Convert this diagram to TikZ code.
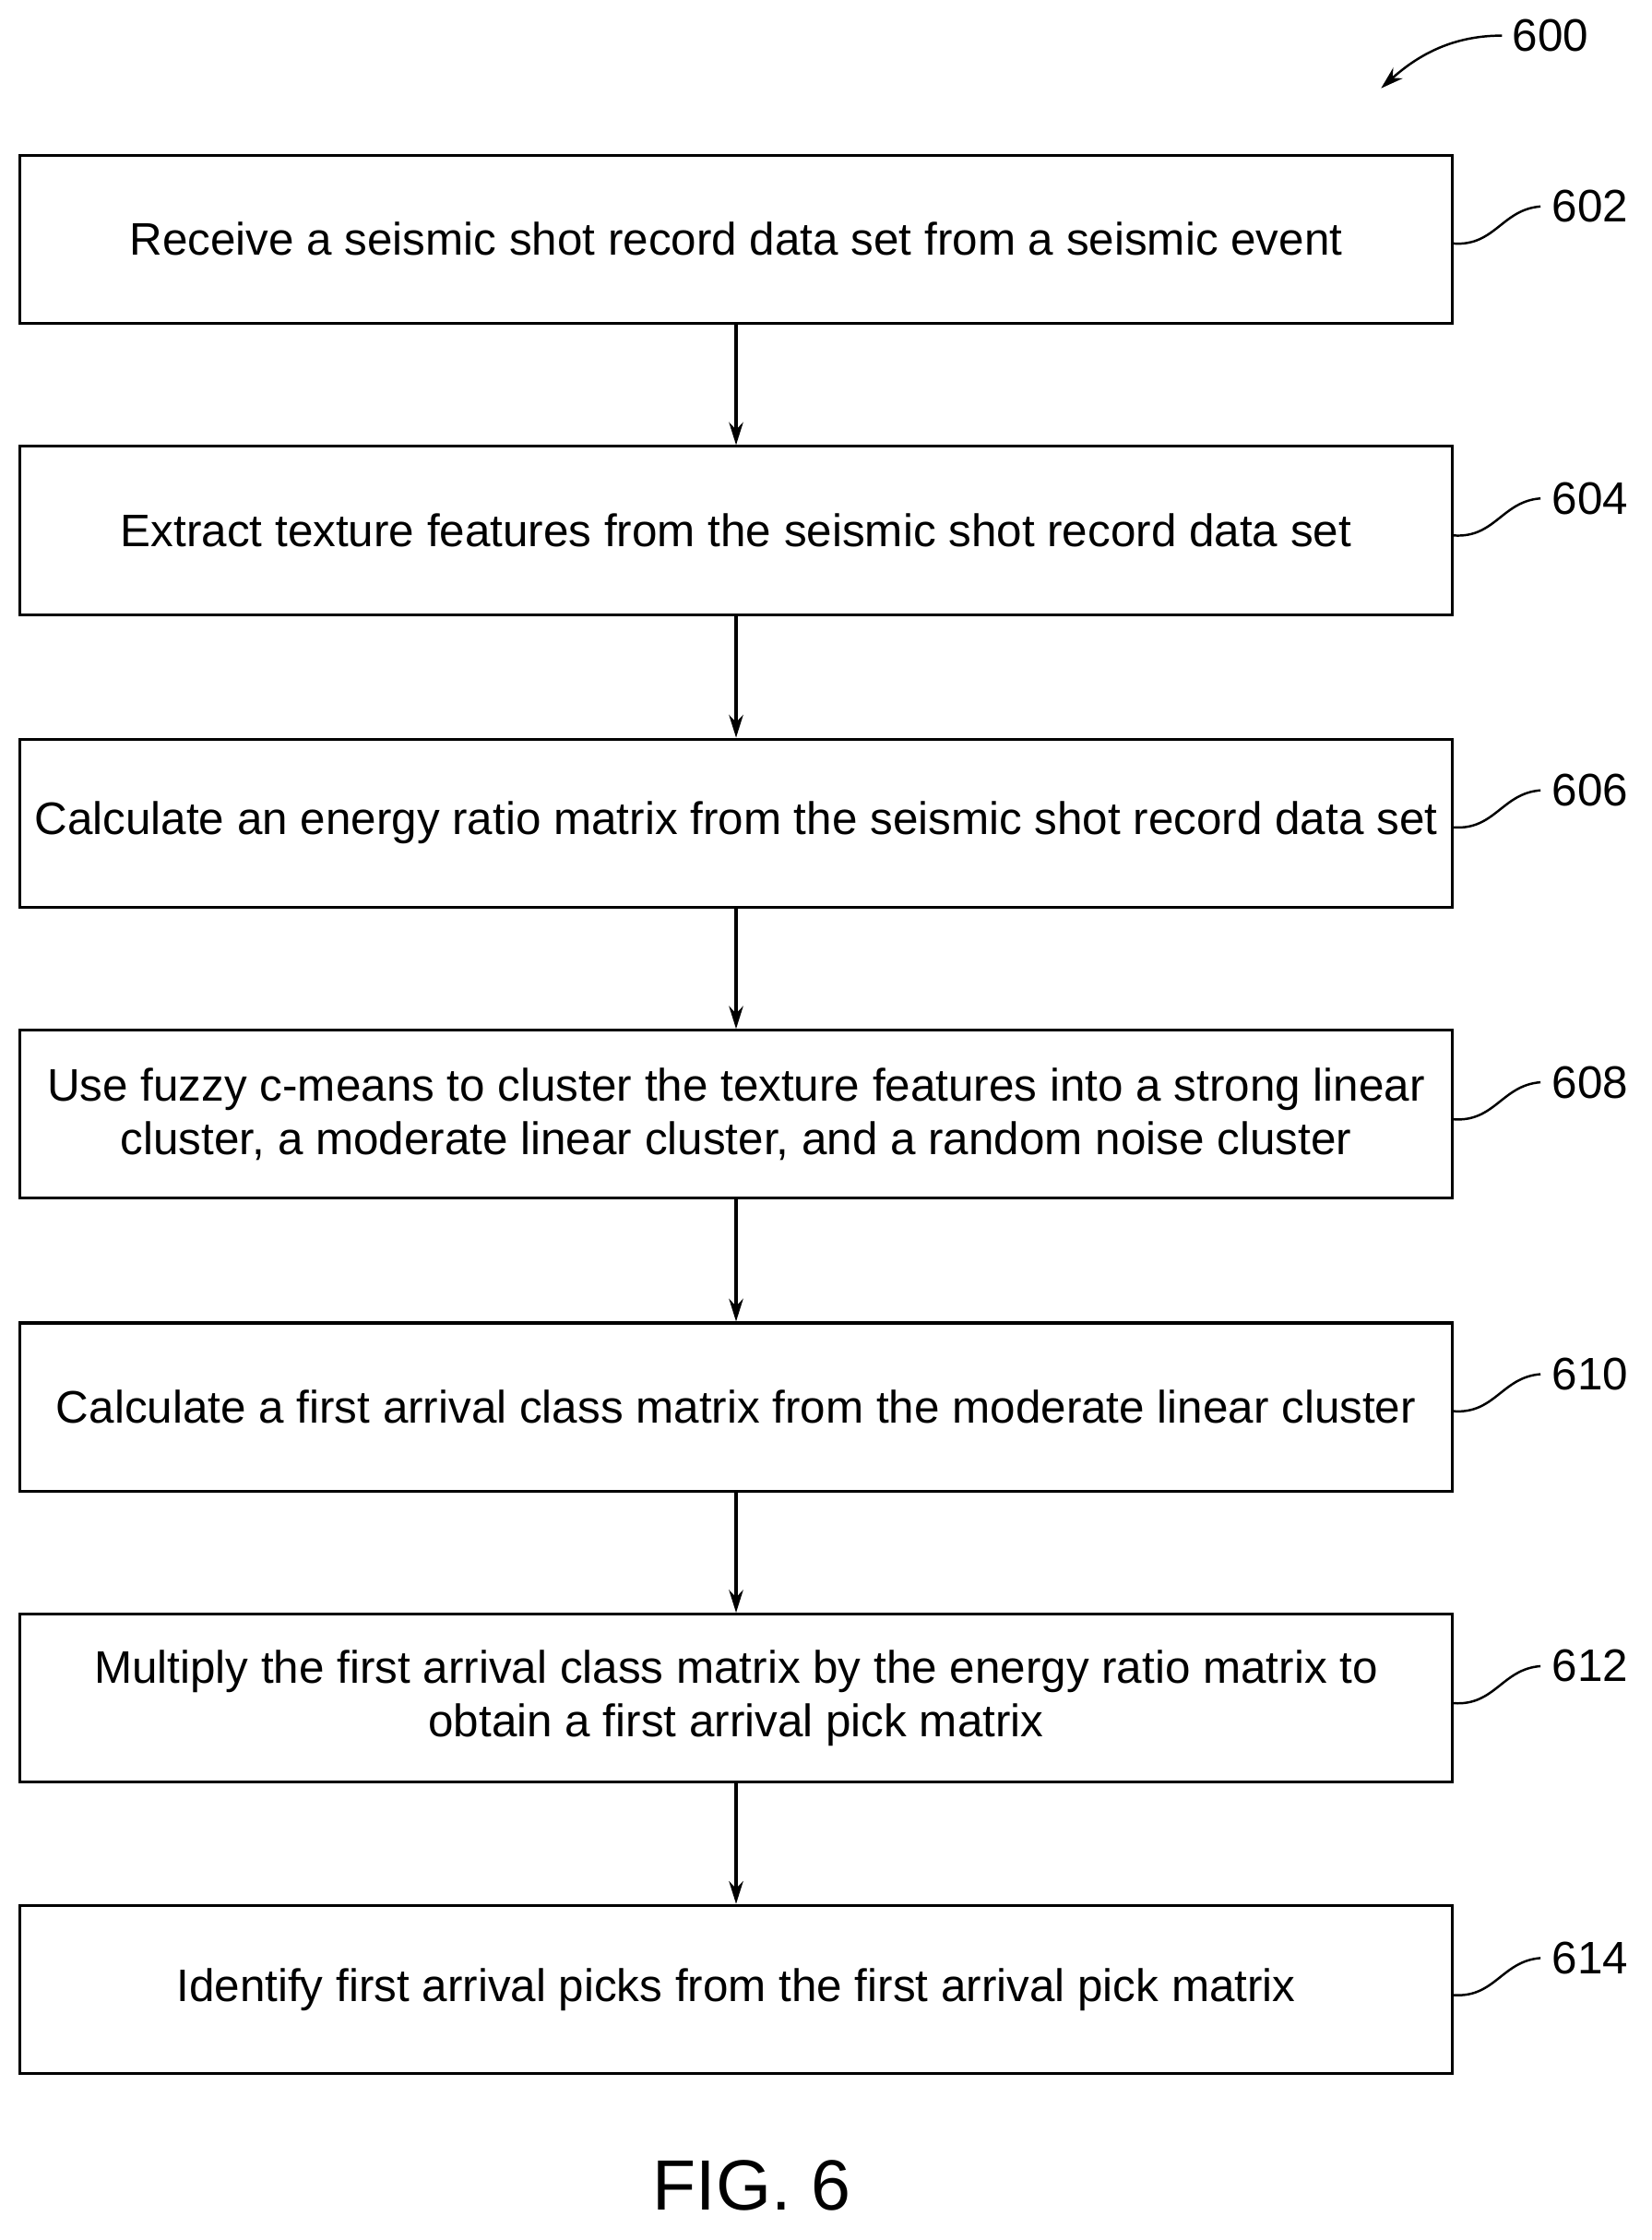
\documentclass[tikz,border=0pt]{standalone}
\usepackage{fontspec}
\setmainfont{Liberation Sans}
\usetikzlibrary{arrows.meta}
\begin{document}
\begin{tikzpicture}[x=1pt,y=-1pt,
 box/.style={draw,line width=2pt,minimum width=1006pt,minimum height=118pt,align=center,font=\fontsize{32}{38}\selectfont,inner sep=0pt},
 arr/.style={line width=2pt,-{Stealth[length=16pt,width=10pt]}},
 lab/.style={font=\fontsize{32}{34}\selectfont,anchor=west,inner sep=0pt},
 lead/.style={line width=1.6pt}]
\useasboundingbox (0,0) rectangle (1160,1573);
\node[box] (b1) at (517,168) {Receive a seismic shot record data set from a seismic event};
\node[box] (b2) at (517,372.5) {Extract texture features from the seismic shot record data set};
\node[box] (b3) at (517,578) {Calculate an energy ratio matrix from the seismic shot record data set};
\node[box] (b4) at (517,782.5) {Use fuzzy c-means to cluster the texture features into a strong linear\\cluster, a moderate linear cluster, and a random noise cluster};
\node[box] (b5) at (517,988) {Calculate a first arrival class matrix from the moderate linear cluster};
\node[box] (b6) at (517,1192.5) {Multiply the first arrival class matrix by the energy ratio matrix to\\obtain a first arrival pick matrix};
\node[box] (b7) at (517,1397) {Identify first arrival picks from the first arrival pick matrix};
\foreach \a/\b in {b1/b2,b2/b3,b3/b4,b4/b5,b5/b6,b6/b7}
  \draw[arr] (\a.south) -- (\b.north);
\foreach \n/\t/\y in {b1/602/145,b2/604/350,b3/606/555,b4/608/760,b5/610/965,b6/612/1170,b7/614/1375}{
  \node[lab] (l\t) at (1090,\y) {\t};
  \coordinate (s\t) at (1021,\y+26);
  \coordinate (e\t) at (1082,\y);
  \draw[lead] (s\t) .. controls (1050,\y+28) and (1055,\y+2) .. (e\t);
}
\node[lab] (l600) at (1062,25) {600};
\coordinate (t600) at (970,62);
\coordinate (e600) at (1055,25);
\draw[line width=1.6pt,-{Stealth[length=16pt,width=10pt]}] (e600) .. controls (1025,25) and (1000,35) .. (t600);
\node[font=\fontsize{50}{55}\selectfont] (fig) at (528,1535) {FIG. 6};
\end{tikzpicture}
\end{document}
